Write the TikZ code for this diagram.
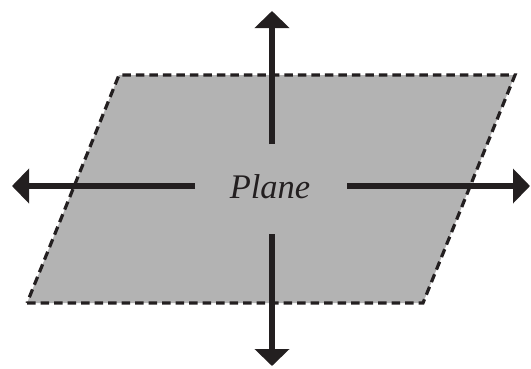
\documentclass[tikz,border=0pt]{standalone}
\usepackage{fontspec}
\setmainfont{Liberation Serif}
\usetikzlibrary{arrows.meta}
\definecolor{planegray}{RGB}{179,179,179}
\definecolor{ink}{RGB}{35,31,32}
\begin{document}
\begin{tikzpicture}[x=1pt,y=-1pt,
  planeedge/.style={draw=ink,fill=planegray,line width=3.2pt,dash pattern=on 8.5pt off 5pt},
  bigarrow/.style={draw=ink,line width=5.5pt,-{Triangle[length=17pt,width=34pt]}},
  label/.style={font=\fontsize{34.5}{38}\selectfont\itshape,text=ink,inner sep=0pt}]
\useasboundingbox (0,0) rectangle (531,368);
\coordinate (bl) at (27,303);
\coordinate (br) at (423,303);
\coordinate (tr) at (515,75);
\coordinate (tl) at (119,75);
\path[planeedge] (bl) -- (br) -- (tr) -- (tl) -- cycle;
\node[label,anchor=base] (plane) at (270,198) {Plane};
\coordinate (ups) at (272,144);
\coordinate (upt) at (272,11);
\coordinate (dns) at (272,234);
\coordinate (dnt) at (272,366);
\coordinate (lfs) at (195,186);
\coordinate (lft) at (12,186);
\coordinate (rts) at (347,186);
\coordinate (rtt) at (530,186);
\draw[bigarrow] (ups) -- (upt);
\draw[bigarrow] (dns) -- (dnt);
\draw[bigarrow] (lfs) -- (lft);
\draw[bigarrow] (rts) -- (rtt);
\end{tikzpicture}
\end{document}
